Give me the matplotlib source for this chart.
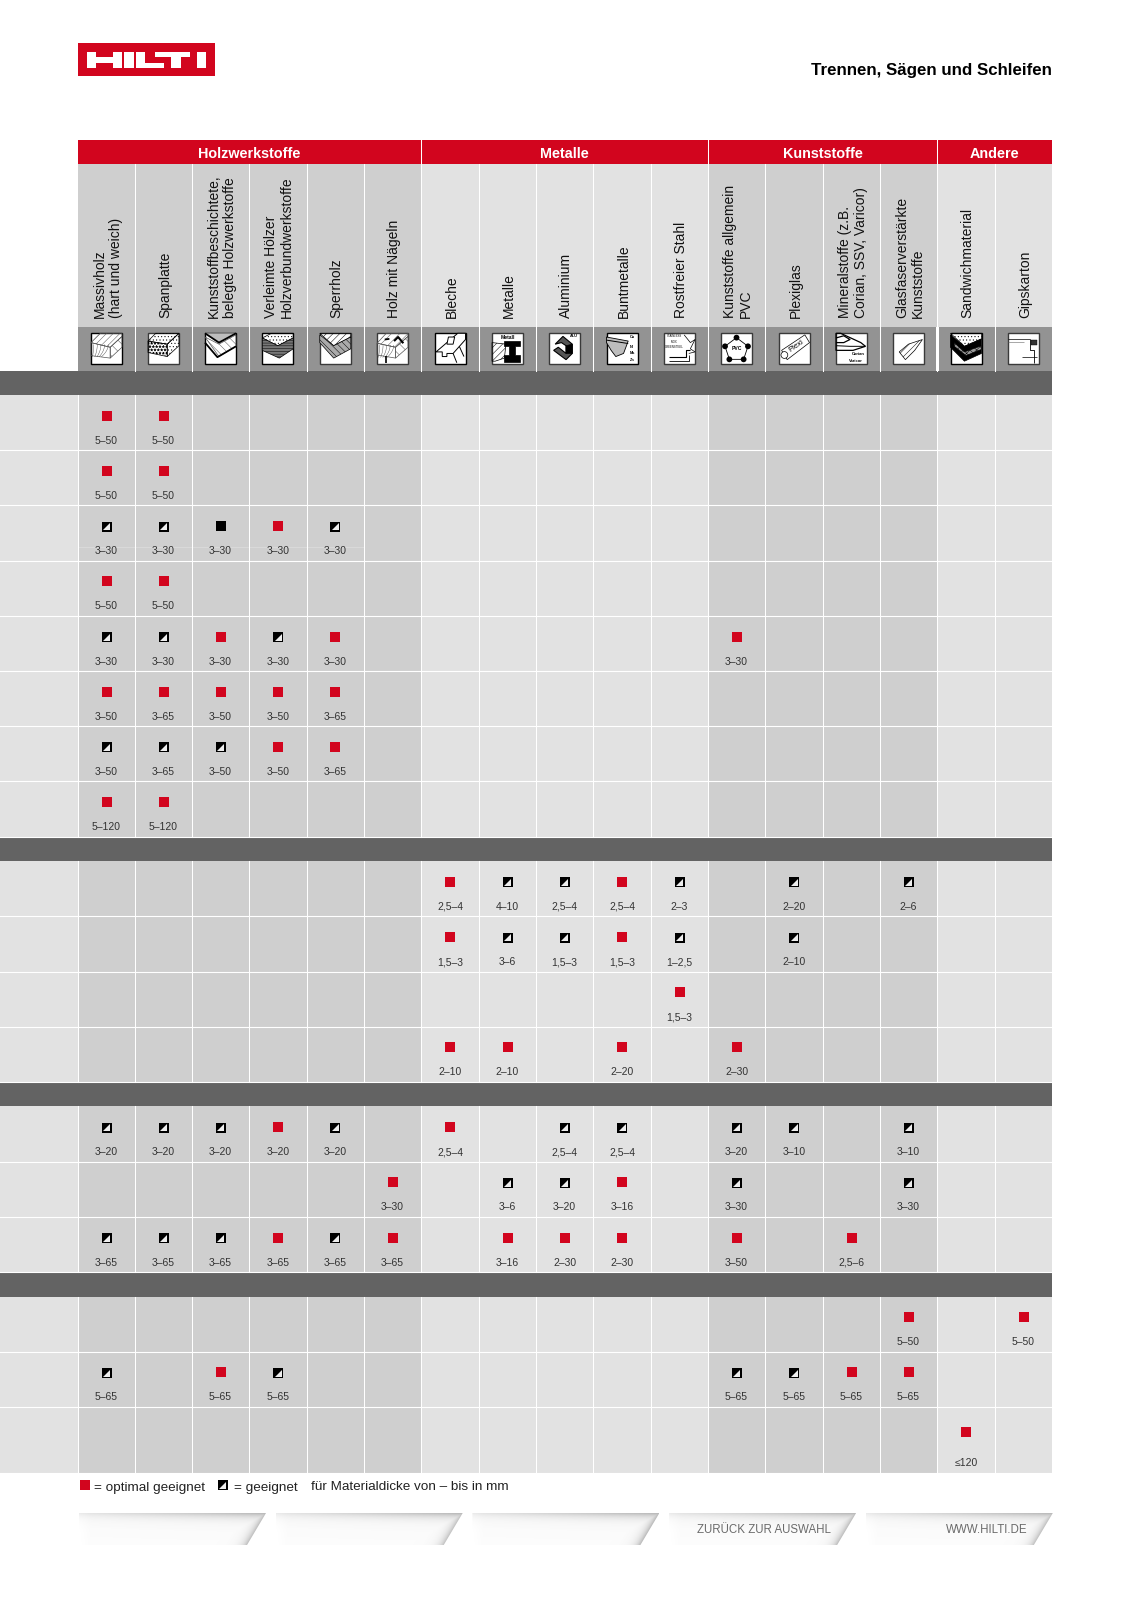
import numpy as np
import matplotlib
matplotlib.use("Agg")
import matplotlib.pyplot as plt
from matplotlib.patches import Rectangle, Polygon, Circle

plt.rcParams['font.family'] = ['Liberation Sans', 'DejaVu Sans']
plt.rcParams['hatch.linewidth'] = 0.35

# data
groups = ["Holzwerkstoffe", "Metalle", "Kunststoffe", "Andere"]
group_sizes = [6, 5, 4, 2]
columns = ["Massivholz\n(hart und weich)", "Spanplatte",
           "Kunststoffbeschichtete,\nbelegte Holzwerkstoffe",
           "Verleimte Hölzer\nHolzverbundwerkstoffe", "Sperrholz", "Holz mit Nägeln",
           "Bleche", "Metalle", "Aluminium", "Buntmetalle", "Rostfreier Stahl",
           "Kunststoffe allgemein\nPVC", "Plexiglas",
           "Mineralstoffe (z.B.\nCorian, SSV, Varicor)",
           "Glasfaserverstärkte\nKunststoffe", "Sandwichmaterial", "Gipskarton"]
section_sizes = [8, 4, 3, 3]

# O = optimal geeignet, G = geeignet, B = schwarz
ratings = [
    "OO...............",
    "OO...............",
    "GGBOG............",
    "OO...............",
    "GGOGO......O.....",
    "OOOOO............",
    "GGGOO............",
    "OO...............",
    "......OGGOG.G.G..",
    "......OGGOG.G....",
    "..........O......",
    "......OO.O.O.....",
    "GGGOG.O.GG.GG.G..",
    ".....O.GGO.G..G..",
    "GGGOGO.OOO.O.O...",
    "..............O.O",
    "G.OG.......GGOO..",
    "...............O.",
]
ranges = [
    ["5–50", "5–50"],
    ["5–50", "5–50"],
    ["3–30", "3–30", "3–30", "3–30", "3–30"],
    ["5–50", "5–50"],
    ["3–30", "3–30", "3–30", "3–30", "3–30", "3–30"],
    ["3–50", "3–65", "3–50", "3–50", "3–65"],
    ["3–50", "3–65", "3–50", "3–50", "3–65"],
    ["5–120", "5–120"],
    ["2,5–4", "4–10", "2,5–4", "2,5–4", "2–3", "2–20", "2–6"],
    ["1,5–3", "3–6", "1,5–3", "1,5–3", "1–2,5", "2–10"],
    ["1,5–3"],
    ["2–10", "2–10", "2–20", "2–30"],
    ["3–20", "3–20", "3–20", "3–20", "3–20", "2,5–4", "2,5–4", "2,5–4", "3–20", "3–10", "3–10"],
    ["3–30", "3–6", "3–20", "3–16", "3–30", "3–30"],
    ["3–65", "3–65", "3–65", "3–65", "3–65", "3–65", "3–16", "2–30", "2–30", "3–50", "2,5–6"],
    ["5–50", "5–50"],
    ["5–65", "5–65", "5–65", "5–65", "5–65", "5–65", "5–65"],
    ["≤120"],
]

RED = "#d2051e"
DARK = "#cfcfcf"
LIGHT = "#e2e2e2"

fig = plt.figure(figsize=(11.31, 16), dpi=100)
ax = fig.add_axes([0, 0, 1, 1])
ax.set_xlim(0, 1131)
ax.set_ylim(1600, 0)
ax.axis('off')
ax.set_autoscale_on(False)

col_x = [78, 135, 192, 249, 306.5, 364, 421, 479, 536, 593, 651,
         708, 765, 823, 880, 937, 995, 1052]
col_c = [(col_x[i] + col_x[i + 1]) / 2 for i in range(17)]
col_c[0] = 106.5
shade = []
for g, n in enumerate(group_sizes):
    shade += [DARK if g % 2 == 0 else LIGHT] * n


def rect(x0, y0, x1, y1, color, z=1):
    ax.add_patch(Rectangle((x0, y0), x1 - x0, y1 - y0, fc=color, ec='none', zorder=z))


# logo
rect(78, 43.3, 215, 75.7, RED)
logo = [[87, 51.7, 96, 68.3], [112.5, 51.7, 122, 68.3], [96, 57.3, 112.5, 63],
        [124.3, 51.7, 133.7, 68.3], [135.7, 51.7, 145, 68.3], [145, 63, 163.5, 68.3],
        [155, 51.7, 190, 57.3], [171, 57.3, 180.5, 68.3], [197, 51.7, 206, 68.3]]
for b in logo:
    rect(b[0], b[1], b[2], b[3], "white", 2)
ax.text(1051.7, 70, "Trennen, Sägen und Schleifen", ha='right', va='center',
        fontsize=12.2, fontweight='bold', color='black')

# kopf
rect(78, 140, 1052, 164, RED)
start = 0
for g, n in enumerate(group_sizes):
    ax.text((col_x[start] + col_x[start + n]) / 2, 153.5, groups[g], color='white',
            fontsize=10.4, fontweight='bold', ha='center', va='center', zorder=3)
    start += n
for i in range(17):
    rect(col_x[i], 164, col_x[i + 1], 327, shade[i])
    ax.text(col_c[i] + 1.5, 318.5, columns[i], rotation=90, ha='center', va='bottom',
            multialignment='left', fontsize=10, linespacing=1.2, color='#111111', zorder=3)
rect(78, 327, 1052, 370.5, "#939393")
for x in col_x[1:-1]:
    ax.plot([x, x], [164, 370.5], color='white', lw=0.75, zorder=4)
for x in [col_x[6], col_x[11], col_x[15]]:
    ax.plot([x, x], [140, 164], color='white', lw=0.75, zorder=4)
rect(935.5, 327, 939.2, 370.5, "white", 4)

# zeilen
row_h = 55.2
y = 370.5
row_top = []
row_bot = []
for s in section_sizes:
    rect(0, y, 1052, y + 24.5, "#636363", 2)
    y += 24.5
    for r in range(s):
        h = row_h
        if len(row_top) == 17:
            h = 1472.5 - y
        row_top.append(y)
        row_bot.append(y + h)
        rect(0, y, 78, y + h, LIGHT)
        for i in range(17):
            rect(col_x[i], y, col_x[i + 1], y + h, shade[i])
        y += h
for r in range(18):
    ax.plot([0, 1052], [row_bot[r], row_bot[r]], color='white', lw=0.8, zorder=3)
    for x in col_x[:-1]:
        ax.plot([x, x], [row_top[r], row_bot[r]], color='white', lw=0.75, zorder=3)
ax.plot([78, 364], [547, 547], color='#dadada', lw=0.7, zorder=2)


def half_square(cx, cy, size=10, z=6):
    d = size / 2
    ax.add_patch(Rectangle((cx - d, cy - d), size, size, fc='black', ec='none', zorder=z))
    t = 1.2
    ax.add_patch(Polygon([(cx + d - t, cy - d + t + 0.6), (cx + d - t, cy + d - t),
                          (cx - d + t + 0.6, cy + d - t)], fc='#eeeeee', ec='none', zorder=z + 1))


for r in range(18):
    top, bot = row_top[r], row_bot[r]
    my = top + 0.375 * (bot - top)
    k = 0
    for c, ch in enumerate(ratings[r]):
        if ch == '.':
            continue
        if ch == 'G':
            half_square(col_c[c], my + 0.5)
        else:
            ax.scatter([col_c[c]], [my], marker='s', s=52, linewidths=0,
                       color=RED if ch == 'O' else 'black', zorder=6)
        ax.text(col_c[c], bot - 9.5, ranges[r][k], ha='center', va='center',
                fontsize=7.5, color='#333333', zorder=6)
        k += 1


# icons
box = 31
box_y = 333.3


def P(c, pts):
    x0 = col_c[c] - box / 2
    return [(x0 + a * box, box_y + b * box) for a, b in pts]


def poly(c, pts, fc='none', ec='black', lw=0.5, hatch=None, closed=True):
    ax.add_patch(Polygon(P(c, pts), closed=closed, fc=fc, ec=ec, lw=lw, hatch=hatch, zorder=8))


def line(c, pts, lw=0.5, color='black'):
    q = np.array(P(c, pts))
    ax.plot(q[:, 0], q[:, 1], color=color, lw=lw, zorder=8, solid_capstyle='butt')


def label(c, x, y, s, size=3.2, rot=0, bold=False):
    q = P(c, [(x, y)])[0]
    ax.text(q[0], q[1], s, fontsize=size, rotation=rot, ha='center', va='center',
            fontweight='bold' if bold else 'normal', color='black', zorder=9)


def grain(c, x_off, y_off, w, h):
    # holzmaserung als bogen
    for k in np.linspace(0.15, 1, 5):
        t = np.linspace(0, 1, 8)
        line(c, [(x_off + w * k * (1 - a * a * 0.4) * 0.9, y_off + h * a) for a in t], lw=0.3, color='#444444')


for c in range(17):
    ec = 'black' if c in (0, 2, 3, 6, 9, 15) else '#3a3a3a'
    x0 = col_c[c] - box / 2
    ax.add_patch(Rectangle((x0, box_y), box, box, fc='white', ec=ec, lw=1.0, zorder=7))

# Massivholz
poly(0, [(0, .3), (.3, 0), (1, 0), (1, .1), (.62, .45)], hatch='/////', ec='#555555')
poly(0, [(0, .3), (.62, .45), (.62, .8), (0, .72)], ec='#555555')
grain(0, 0, .36, .62, .4)
poly(0, [(.62, .45), (1, .1), (1, .45), (.62, .8)], hatch='\\\\\\', ec='#555555')
# Spanplatte
poly(1, [(0, .25), (.25, 0), (1, 0), (.62, .35)], hatch='.....')
poly(1, [(0, .25), (.62, .35), (.62, .75), (0, .62)], hatch='*****')
poly(1, [(.62, .35), (1, 0), (1, .4), (.62, .75)], hatch='.....')
# Kunststoffbeschichtet
poly(2, [(0, 0), (1, 0), (.45, .3)], fc='#bdbdbd', lw=0)
poly(2, [(.0, .12), (.45, .35), (1, .05), (1, .42), (.45, .75)], hatch='\\\\\\\\', ec='#555555')
line(2, [(0, 0), (.45, .3), (1, 0)], lw=1.3)
line(2, [(0, .3), (.4, .77), (1, .42)], lw=1.3)
# Verleimt
poly(3, [(0, .15), (.3, 0), (1, 0), (1, .15), (.5, .4)], hatch='.....')
poly(3, [(0, .15), (.5, .4), (1, .15), (1, .5), (.55, .8), (0, .55)], fc='#777777', hatch='------')
# Sperrholz
poly(4, [(0, 0), (1, 0), (1, .12), (.45, .4)], hatch='/////')
poly(4, [(0, .05), (.45, .4), (1, .12), (1, .5), (.45, .8), (0, .3)], fc='#aaaaaa', hatch='\\\\\\\\\\')
# Naegel
poly(5, [(0, .32), (.3, 0), (1, 0), (1, .1), (.6, .45)], hatch='////', ec='#555555')
poly(5, [(0, .32), (.6, .45), (.6, .8), (0, .7)], ec='#555555')
grain(5, 0, .38, .6, .4)
poly(5, [(.6, .45), (1, .1), (1, .45), (.6, .8)], hatch='\\\\\\', ec='#555555')
line(5, [(.25, .2), (.4, .18)], lw=1.3)
line(5, [(.55, .25), (.68, .12), (.85, .32)], lw=1.5)
line(5, [(.28, .72), (.28, .95)], lw=1.2)
# Bleche
poly(6, [(.05, .6), (.4, .3), (.75, 0), (1, 0), (1, .2), (.6, .65), (.4, .65), (.4, .75), (.25, .75), (.25, .6)], fc='white', lw=0.7)
poly(6, [(.45, .12), (.65, .12), (.6, .35), (.4, .35)], fc='white', lw=0.7)
line(6, [(.6, .65), (.72, .95)], lw=0.7)
line(6, [(.8, .42), (.95, .75)], lw=0.7)
# Metalle
poly(7, [(0, .3), (.45, .35), (.4, .8), (.1, .9), (0, .9)], hatch='/////')
poly(7, [(.4, .25), (.9, .25), (.9, .4), (.75, .4), (.75, .7), (.9, .7), (.9, .92), (.4, .92), (.4, .7), (.55, .7), (.55, .4), (.4, .4)], fc='black')
label(7, .5, .12, "Metall", 3.6, bold=True)
# Aluminium
poly(8, [(.2, .35), (.45, .1), (.75, .35), (.75, .65), (.55, .85), (.15, .55), (.3, .45), (.55, .65), (.55, .4), (.4, .3)], fc='#555555', lw=0.8)
poly(8, [(.55, .4), (.75, .35), (.75, .65), (.55, .65)], fc='black')
label(8, .8, .08, "ALU", 2.8, bold=True)
# Buntmetalle
poly(9, [(0, .12), (.7, .25), (.55, .65), (.3, .75), (.15, .55), (0, .3)], fc='#bdbdbd', lw=0.6)
line(9, [(0, .22), (.7, .33)], lw=0.7)
for txt, yy in zip(["Cu", "Ni", "Ms", "Zn"], [.12, .45, .65, .85]):
    label(9, .83, yy, txt, 2.8, bold=True)
# Rostfreier Stahl
for txt, yy in zip(["STAINLESS", "INOX", "GREENSTEEL"], [.1, .28, .45]):
    label(10, .33, yy, txt, 2.0)
line(10, [(.15, .78), (.72, .78), (.72, .55), (.85, .55)], lw=0.8)
line(10, [(.15, .9), (.82, .9), (.82, .7)], lw=0.6)
line(10, [(.65, .05), (.85, .3), (1, .2), (.85, .5), (1, .6), (.8, .65)], lw=0.5)
# PVC
pent = [(.5, .14), (.87, .42), (.73, .84), (.27, .84), (.13, .42)]
poly(11, pent, lw=0.6)
for q in P(11, pent):
    ax.add_patch(Circle(q, 2.9, fc='black', ec='none', zorder=9))
label(11, .5, .5, "PVC", 3.6, bold=True)
# Plexi
poly(12, [(.1, .55), (.85, .05), (1, .3), (.28, .85)], lw=0.5)
ax.add_patch(Circle(P(12, [(.19, .7)])[0], 3.4, fc='white', ec='black', lw=0.5, zorder=9))
label(12, .58, .42, "Plexi", 5.5, rot=35)
# Corian
poly(13, [(0, 0), (.15, 0), (.8, .3), (.95, .42), (.55, .55), (0, .55)], lw=0.9)
line(13, [(0, .4), (.45, .42), (.95, .42)], lw=0.7)
line(13, [(0, .15), (.25, .08), (.45, .2), (.25, .3), (0, .3)], lw=0.9)
label(13, .72, .68, "Corian", 3.0, bold=True)
label(13, .65, .88, "Varicor", 3.0, bold=True)
# Glasfaser
poly(14, [(.2, .6), (.5, .35), (.95, .2), (.7, .55), (.4, .85)], hatch='/////', lw=0.5)
# Sandwich
poly(15, [(0, 0), (1, 0), (1, .18), (.45, .42)], hatch='.....')
poly(15, [(0, .05), (.45, .42), (1, .18), (1, .65), (.45, .9), (0, .45)], fc='black')
poly(15, [(.12, .3), (.45, .6), (1, .4), (1, .52), (.5, .72), (.12, .42)], fc='#999999', hatch='xxxxx')
# Gipskarton
line(16, [(0, .18), (.7, .18)], lw=0.5)
line(16, [(0, .28), (.5, .28)], lw=0.4, color='#666666')
line(16, [(.7, .18), (.7, .55), (.85, .55), (.85, .95)], lw=0.6)
line(16, [(.45, .75), (.95, .75)], lw=0.5)
poly(16, [(.75, .22), (.95, .22), (.95, .38), (.75, .38)], fc='#333333', lw=0.3)

# legende
ax.scatter([85.2], [1485], marker='s', s=52, linewidths=0, color=RED, zorder=6)
ax.text(94.3, 1490.5, "= optimal geeignet", ha='left', va='baseline', fontsize=9.7, color='#222222')
half_square(222.6, 1485)
ax.text(234, 1490.5, "= geeignet", ha='left', va='baseline', fontsize=9.7, color='#222222')
ax.text(311, 1490.5, "für Materialdicke von – bis in mm", ha='left', va='baseline', fontsize=9.7, color='#222222')

# fusszeile
tab_top, tab_bot = 1513, 1545
tab_texts = ["", "", "", "ZURÜCK ZUR AUSWAHL", "WWW.HILTI.DE"]
for i in range(5):
    right = 266 + i * 196.7
    left = right - 187
    outline = [(left, tab_top), (right, tab_top), (right - 19, tab_bot), (left, tab_bot)]
    xs = np.arange(left, right, 0.5)
    ys = np.arange(tab_top, tab_bot, 0.5)
    xx, yy = np.meshgrid(xs, ys)
    edge = right - (yy - tab_top) * 19 / (tab_bot - tab_top)
    u = (xx - left) / (right - left)
    dark = np.maximum(np.exp(-(yy - tab_top) / 4.5) * (0.3 + 0.7 * u),
                      np.exp(-np.maximum(edge - xx, 0) / 5.0))
    grey = 0.985 - 0.27 * dark
    grey = np.where(xx - left < 12, grey + (0.015) * (1 - (xx - left) / 12), grey)
    im = ax.imshow(grey, extent=(left, right, tab_bot, tab_top), cmap='gray', vmin=0, vmax=1,
                   aspect='auto', zorder=1, interpolation='bilinear')
    clip = Polygon(outline, transform=ax.transData, fc='none', ec='none')
    ax.add_patch(clip)
    im.set_clip_path(clip)
    if tab_texts[i]:
        ax.text(right - 25, 1530, tab_texts[i], ha='right', va='center', fontsize=8.3,
                color='#6b6b6b', zorder=3)

ax.set_xlim(0, 1131)
ax.set_ylim(1600, 0)
fig.savefig("out.png", dpi=100, facecolor='white')
